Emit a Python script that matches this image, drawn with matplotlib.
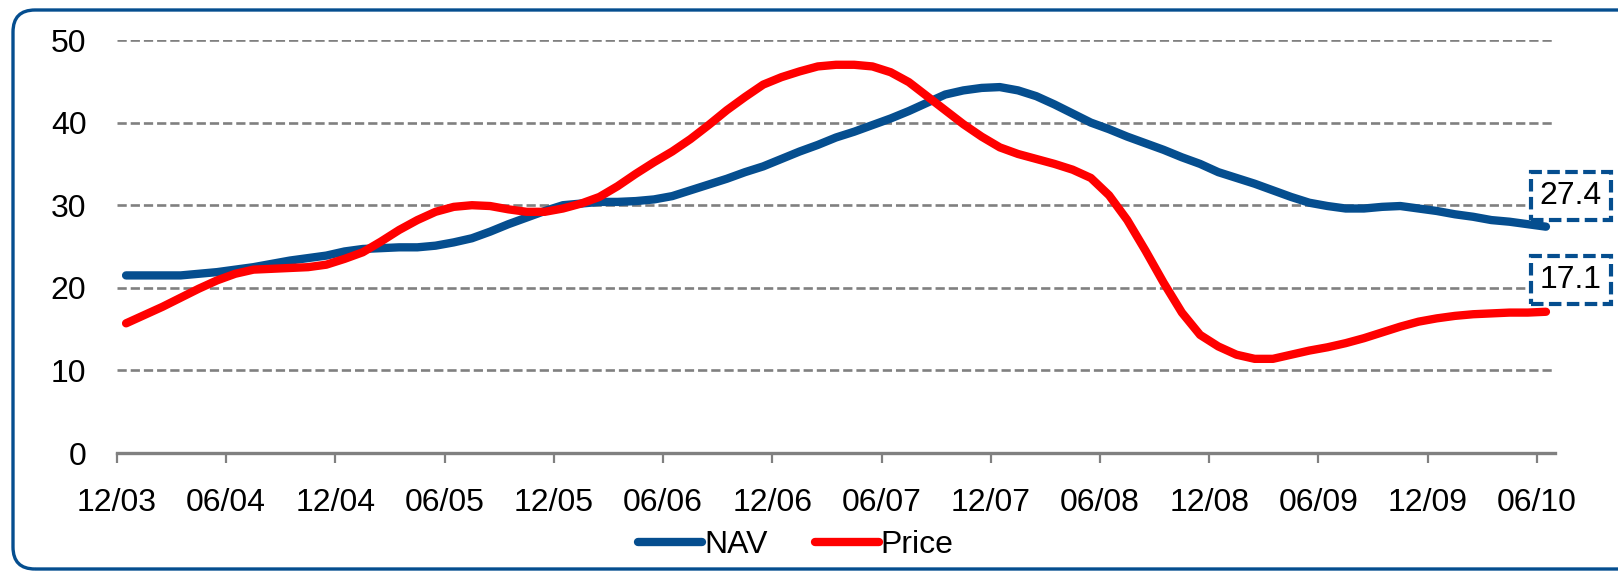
import matplotlib
matplotlib.use("Agg")
import matplotlib.pyplot as plt
import numpy as np
from matplotlib import transforms
from matplotlib.patches import FancyBboxPatch

tick_labels = ["12/03", "06/04", "12/04", "06/05", "12/05", "06/06", "12/06",
               "06/07", "12/07", "06/08", "12/08", "06/09", "12/09", "06/10"]

# monthly values, Dec 2003 .. Jun 2010
nav = [21.5, 21.5, 21.5, 21.5, 21.7, 21.9, 22.2, 22.5, 22.9, 23.3,
       23.6, 23.9, 24.4, 24.7, 24.8, 24.9, 24.9, 25.1, 25.5, 26.0,
       26.8, 27.7, 28.5, 29.3, 30.0, 30.2, 30.4, 30.4, 30.5, 30.7,
       31.1, 31.8, 32.5, 33.2, 34.0, 34.7, 35.6, 36.5, 37.3, 38.2,
       38.9, 39.7, 40.5, 41.4, 42.4, 43.4, 43.9, 44.2, 44.3, 43.9,
       43.2, 42.2, 41.1, 40.0, 39.2, 38.3, 37.5, 36.7, 35.8, 35.0,
       34.0, 33.3, 32.6, 31.8, 31.0, 30.3, 29.9, 29.6, 29.6, 29.8,
       29.9, 29.6, 29.3, 28.9, 28.6, 28.2, 28.0, 27.7, 27.4]

price = [15.7, 16.7, 17.7, 18.8, 19.9, 20.9, 21.7, 22.2, 22.3, 22.4,
         22.5, 22.8, 23.5, 24.3, 25.6, 27.0, 28.2, 29.2, 29.8, 30.0,
         29.9, 29.5, 29.2, 29.2, 29.6, 30.2, 31.0, 32.3, 33.8, 35.2,
         36.5, 38.0, 39.7, 41.5, 43.1, 44.6, 45.5, 46.2, 46.8, 47.0,
         47.0, 46.8, 46.1, 44.9, 43.2, 41.5, 39.8, 38.3, 37.0, 36.2,
         35.6, 35.0, 34.3, 33.3, 31.2, 28.2, 24.5, 20.6, 17.0, 14.3,
         12.9, 11.9, 11.4, 11.4, 11.9, 12.4, 12.8, 13.3, 13.9, 14.6,
         15.3, 15.9, 16.3, 16.6, 16.8, 16.9, 17.0, 17.0, 17.1]

last_labels = ["27.4", "17.1"]
label_y = [31.1, 20.9]

BLUE = "#054E8F"
RED = "#FF0000"
GREY = "#808080"

plt.rcParams['font.family'] = ['Liberation Sans', 'DejaVu Sans']

fig = plt.figure(figsize=(16.18, 5.74), dpi=100)
ax = fig.add_axes([0.0723, 0.2108, 0.8888, 0.7195])

x = np.arange(len(nav)) + 0.5
ax.plot(x, nav, color=BLUE, lw=6, solid_capstyle='round', label='NAV', zorder=3)
ax.plot(x, price, color=RED, lw=6, solid_capstyle='round', label='Price', zorder=4)

ax.set_xlim(0, len(nav))
ax.set_ylim(0, 50)
ax.set_yticks([0, 10, 20, 30, 40, 50])
ax.set_xticks(np.arange(0, len(nav), 6))
ax.set_xticklabels(tick_labels)

ax.yaxis.grid(True, linestyle=(0, (3.5, 1.5)), color=GREY, lw=1.9)
ax.set_axisbelow(True)
for s in ["top", "right", "left"]:
    ax.spines[s].set_visible(False)
ax.spines["bottom"].set_color(GREY)
ax.spines["bottom"].set_linewidth(2.4)

ax.tick_params(axis='x', length=7, width=1.6, color=GREY, pad=18, labelsize=23)
ax.tick_params(axis='y', length=0, pad=22, labelsize=23)

trans = transforms.blended_transform_factory(ax.transAxes, ax.transData)
for txt, yy in zip(last_labels, label_y):
    ax.text(1.011, yy, txt, transform=trans, ha='center', va='center',
            fontsize=23, clip_on=False, zorder=5,
            bbox=dict(boxstyle='square,pad=0.28', fc='white', ec=BLUE,
                      lw=3, ls=(0, (3, 1.3))))

fig.legend(loc='center', bbox_to_anchor=(0.492, 0.05), ncol=2, frameon=False,
           fontsize=23, handlelength=2.0, handletextpad=0.05,
           columnspacing=1.5, borderpad=0, borderaxespad=0)

frame = FancyBboxPatch((0.13, 0.05), 17.0, 5.59,
                       boxstyle='round,pad=0,rounding_size=0.22',
                       transform=fig.dpi_scale_trans, fill=False,
                       ec=BLUE, lw=2.4, clip_on=False)
fig.add_artist(frame)

fig.savefig("out.png", dpi=100)
